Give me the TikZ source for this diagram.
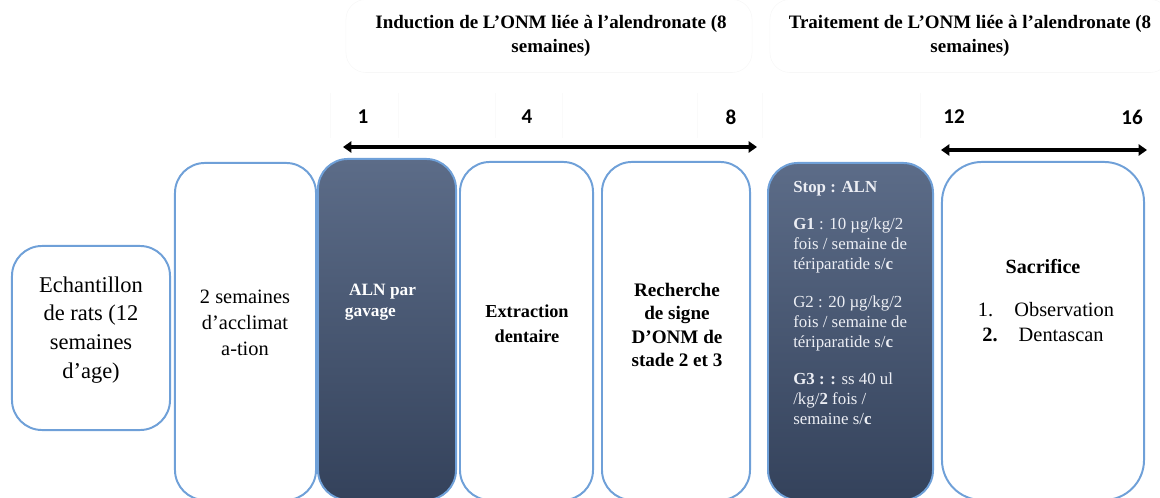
\documentclass[tikz,border=0pt]{standalone}
\usepackage{fontspec}
\setmainfont{Liberation Serif}
\newfontfamily\numfont{Carlito}
\usetikzlibrary{arrows.meta}
\definecolor{boxblue}{HTML}{6FA0D8}
\definecolor{darktop}{HTML}{5C6C88}
\definecolor{darkbot}{HTML}{34425B}
\definecolor{paletxt}{HTML}{ECEEF4}
\begin{document}
\begin{tikzpicture}[x=0.025cm,y=-0.025cm]
  \tikzset{ box/.style={draw=boxblue,line width=1.4pt,rounded corners=0.75cm,fill=white,inner sep=0pt},
    dark/.style={box,top color=darktop,bottom color=darkbot},
    head/.style={draw=black!3,rounded corners=0.5cm,inner sep=0pt},
    num/.style={font=\numfont\bfseries\fontsize{15}{15}\selectfont},
    span/.style={line width=2.8pt,{Triangle[length=6pt,width=8pt]}-{Triangle[length=6pt,width=8pt]}},
  }
  \useasboundingbox (0,0) rectangle (1160,498);

  % headers
  \node[head,minimum width=10.15cm,minimum height=1.825cm] (H1) at (549,36) {};
  \node[head,minimum width=10cm,minimum height=1.825cm] (H2) at (970,36) {};
  \node[align=center,font=\bfseries\fontsize{13.5}{16.5}\selectfont] (H1t) at (551,36)
     {Induction de L’ONM liée à l’alendronate (8\\semaines)};
  \node[align=center,font=\bfseries\fontsize{13.5}{16.5}\selectfont] (H2t) at (970,36)
     {Traitement de L’ONM liée à l’alendronate (8\\semaines)};

  % weeks
  \foreach \x in {330,398,495,562,697,762,920}
    \draw[black!2] (\x,93) -- (\x,138);
  \node[num] (w1) at (363,117) {1};
  \node[num] (w4) at (527,117) {4};
  \node[num] (w8) at (731,117) {8};
  \node[num] (w12) at (954,117) {12};
  \node[num] (w16) at (1132,117) {16};
  \coordinate (a1l) at (343,147);
  \coordinate (a1r) at (757,147);
  \coordinate (a2l) at (941,150);
  \coordinate (a2r) at (1147,150);
  \draw[span] (a1l) -- (a1r);
  \draw[span] (a2l) -- (a2r);

  % boxes
  \node[box,minimum width=3.95cm,minimum height=4.6cm] (E) at (91,338) {};
  \node[box,minimum width=3.525cm,minimum height=8.425cm] (A) at (245.5,331.5) {};
  \node[dark,minimum width=3.45cm,minimum height=8.525cm] (G) at (387,329.5) {};
  \node[box,minimum width=3.325cm,minimum height=8.45cm] (X) at (526.5,331) {};
  \node[box,minimum width=3.7cm,minimum height=8.45cm] (R) at (676,331) {};
  \node[dark,minimum width=4.125cm,minimum height=8.425cm] (S) at (850.5,331.5) {};
  \node[box,rounded corners=1cm,minimum width=5.05cm,minimum height=8.45cm] (F) at (1043,331) {};

  % texts
  \node[align=center,font=\fontsize{16}{20.5}\selectfont] (Et) at (91,330)
     {Echantillon\\de rats (12\\semaines\\d’age)};
  \node[align=center,font=\fontsize{14.5}{18.5}\selectfont] (At) at (245,323)
     {2 semaines\\d’acclimat\\a-tion};
  \node[anchor=west,align=left,white,font=\bfseries\fontsize{12.3}{15}\selectfont] (Gt) at (340,302)
     {\hspace*{3pt}ALN par\\gavage};
  \node[align=center,font=\bfseries\fontsize{13}{17.5}\selectfont] (Xt) at (527,324)
     {Extraction\\dentaire};
  \node[align=center,font=\bfseries\fontsize{13.6}{16.7}\selectfont] (Rt) at (677,325)
     {Recherche\\de signe\\D’ONM de\\stade 2 et 3};
  \node[anchor=north west,align=left,paletxt,inner sep=0pt,font=\fontsize{12}{14.2}\selectfont] (St) at (793,181)
     {\textbf{Stop : ALN}\\[12.5pt]
      \textbf{G1} : 10 µg/kg/2\\fois / semaine de\\tériparatide s/\textbf{c}\\[12.5pt]
      G2 : 20 µg/kg/2\\fois / semaine de\\tériparatide s/\textbf{c}\\[12.5pt]
      \textbf{G3 : :} ss 40 ul\\/kg/\textbf{2} fois /\\semaine s/\textbf{c}};
  \node[font=\bfseries\fontsize{14.3}{15}\selectfont] (Ft) at (1043,267) {Sacrifice};
  \node[font=\fontsize{14.5}{15}\selectfont] (F1) at (1046,310) {1.\hspace{15pt}Observation};
  \node[font=\fontsize{14.5}{15}\selectfont] (F2) at (1043,335) {\textbf{2.}\hspace{15pt}Dentascan};
\end{tikzpicture}
\end{document}
